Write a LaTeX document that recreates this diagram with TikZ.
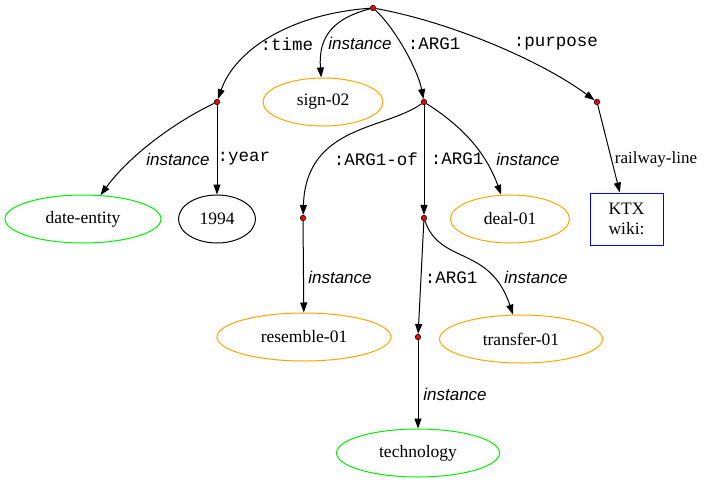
\documentclass[tikz,border=0pt]{standalone}
\usepackage{fontspec}
\setmainfont{Liberation Serif}
\setsansfont{Liberation Sans}
\setmonofont{Liberation Mono}
\usetikzlibrary{arrows.meta,shapes.geometric}
\definecolor{amrorange}{HTML}{FFA500}
\definecolor{amrgreen}{HTML}{00EE00}
\definecolor{amrblue}{HTML}{0000FF}

\begin{document}
\begin{tikzpicture}[x=1pt,y=-1pt,line width=1pt,
    >={Triangle[length=10pt,width=7pt]},
    var/.style={circle,draw=black,fill=red,inner sep=0pt,minimum size=5.5pt,line width=0.6pt},
    concept/.style={ellipse,draw,inner sep=0pt,minimum height=48pt,font=\fontsize{17.5}{20}\selectfont},
    rel/.style={font=\ttfamily\fontsize{17.5}{20}\selectfont},
    inst/.style={font=\sffamily\itshape\fontsize{17}{20}\selectfont},
    attr/.style={font=\fontsize{17}{20}\selectfont}]
    \useasboundingbox (0,0) rectangle (704,482);

    % variables
    \node[var] (root) at (373,8) {};
    \node[var] (time) at (217,102) {};
    \node[var] (arg) at (424,102) {};
    \node[var] (purpose) at (597,102) {};
    \node[var] (argof) at (303,218) {};
    \node[var] (argb) at (424,218) {};
    \node[var] (argc) at (418,337) {};

    % concepts
    \node[concept,draw=amrorange,minimum width=120pt] (sign) at (323,102) {sign-02};
    \node[concept,draw=amrgreen,minimum width=156pt] (date) at (83,219) {date-entity};
    \node[concept,minimum width=77pt] (year) at (217,219) {1994};
    \node[concept,draw=amrorange,minimum width=119pt] (deal) at (510,219) {deal-01};
    \node[draw=amrblue,minimum width=73pt,minimum height=52pt,align=left,
      font=\fontsize{17.5}{20}\selectfont] (ktx) at (626.5,219) {KTX\\wiki:};
    \node[concept,draw=amrorange,minimum width=174pt] (resemble) at (304,337) {resemble-01};
    \node[concept,draw=amrorange,minimum width=163pt] (transfer) at (521,339) {transfer-01};
    \node[concept,draw=amrgreen,minimum width=163pt] (tech) at (418,453) {technology};

    % edges
    \draw[->] (root) .. controls (290,14) and (235,50) .. (time);
    \draw[->] (root) .. controls (335,18) and (318,35) .. (sign);
    \draw[->] (root) .. controls (395,28) and (418,70) .. (arg);
    \draw[->] (root) .. controls (450,22) and (540,60) .. (purpose);
    \draw[->] (time) .. controls (175,122) and (130,155) .. (date);
    \draw[->] (time) -- (year);
    \draw[->] (arg) .. controls (385,130) and (306,125) .. (argof);
    \draw[->] (arg) -- (argb);
    \draw[->] (arg) .. controls (460,125) and (485,150) .. (deal);
    \draw[->] (purpose) -- (ktx);
    \draw[->] (argof) -- (resemble);
    \draw[->] (argb) -- (argc);
    \draw[->] (argb) .. controls (440,265) and (490,245) .. (transfer);
    \draw[->] (argc) -- (tech);

    % edge labels
    \node[rel] at (287,44) {:time};
    \node[inst] at (360,43) {instance};
    \node[rel] at (434,44) {:ARG1};
    \node[rel] at (556,44) {:purpose};
    \node[inst] at (178,159) {instance};
    \node[rel] at (244,159) {:year};
    \node[rel] at (376,159) {:ARG1-of};
    \node[rel] at (457,159) {:ARG1};
    \node[inst] at (528,159) {instance};
    \node[attr] at (656,159) {railway-line};
    \node[inst] at (340,277) {instance};
    \node[rel] at (451,278) {:ARG1};
    \node[inst] at (536,277) {instance};
    \node[inst] at (455,394) {instance};
\end{tikzpicture}
\end{document}
